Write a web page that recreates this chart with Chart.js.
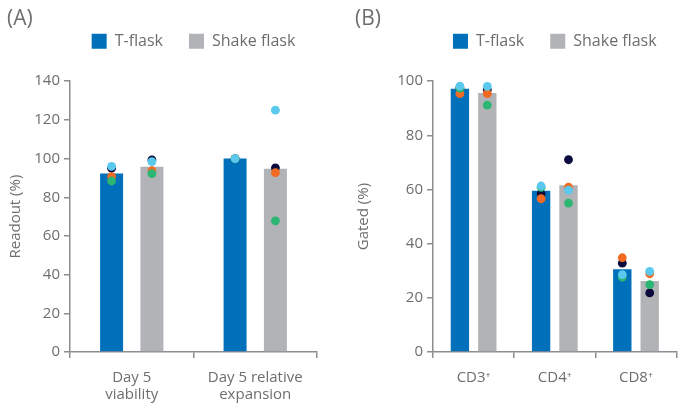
<!DOCTYPE html>
<html>
<head>
<meta charset="utf-8">
<script src="https://cdn.jsdelivr.net/npm/chart.js@4.4.1/dist/chart.umd.min.js"></script>
<style>
  html, body { margin: 0; padding: 0; background: #fff; overflow: hidden; }
  #wrap { position: relative; width: 678px; height: 408px; overflow: hidden; }
  #boxA { position: absolute; left: 0; top: 0; width: 339px; height: 408px; }
  #boxB { position: absolute; left: 339px; top: 0; width: 342px; height: 408px; }
</style>
</head>
<body>
<div id="wrap">
  <div id="boxA"><canvas id="chartA"></canvas></div>
  <div id="boxB"><canvas id="chartB"></canvas></div>
</div>
<script>
// ---------- Panel A: viability and relative expansion ----------
const categoriesA = [['Day 5', 'viability'], ['Day 5 relative', 'expansion']];
const tFlaskA = [92.3, 100];
const shakeA  = [95.8, 94.8];
// individual donors: [T-flask per category], [shake flask per category]
const donor1A_T = [96, 100];   const donor1A_S = [98.4, 125];
const donor2A_T = [95, 100];   const donor2A_S = [99.3, 95.2];
const donor3A_T = [90.7, 100]; const donor3A_S = [93.7, 92.7];
const donor4A_T = [88.4, 100]; const donor4A_S = [92.2, 67.8];
const ticksA = { min: 0, max: 140, step: 20 };

// ---------- Panel B: gated populations ----------
const categoriesB = ['CD3\u207A', 'CD4\u207A', 'CD8\u207A'];
const tFlaskB = [97.2, 59.5, 30.6];
const shakeB  = [95.6, 61.6, 26.2];
const donor1B_T = [98.2, 61.3, 28.6]; const donor1B_S = [98.1, 59.8, 29.8];
const donor2B_T = [97.6, 58.4, 32.8]; const donor2B_S = [96.8, 71.0, 21.8];
const donor3B_T = [95.4, 56.6, 34.8]; const donor3B_S = [95.4, 60.9, 28.9];
const donor4B_T = [97.4, 60.8, 27.6]; const donor4B_S = [91.2, 55.0, 24.9];
const ticksB = { min: 0, max: 100, step: 20 };

const seriesLabels = ['T-flask', 'Shake flask'];
const barColors = ['#0070BA', '#B1B3B6'];
// donors listed top-most first
const donorColors = ['#5BC9EE', '#2BB673', '#F26A21', '#0A0A3C'];
const textGray = '#6D6E71';
const axisGray = '#8C8D90';
const baseFont = "'Open Sans', 'Noto Sans', sans-serif";

// Centre the legend row over the plot area and tuck it under the panel label.
const legendPlacement = {
  id: 'legendPlacement',
  afterLayout(chart) {
    const lg = chart.legend;
    if (!lg) return;
    const ca = chart.chartArea;
    const shift = (ca.left + ca.right) / 2 - (lg.left + lg.right) / 2;
    lg.left += shift;
    lg.right += shift;
    lg.top -= lg.options.labels.padding - 2;
  }
};

function buildChart(canvasId, cfg) {
  const n = cfg.categories.length;
  const off = cfg.groupWidth / 4;          // centre of each bar inside its category
  const xOf = [i => i - off, i => i + off]; // T-flask left, shake flask right

  const barSets = [cfg.tFlask, cfg.shake].map((vals, k) => ({
    type: 'bar',
    label: seriesLabels[k],
    data: vals.map((v, i) => ({ x: xOf[k](i), y: v })),
    backgroundColor: barColors[k],
    borderWidth: 0,
    grouped: false,
    categoryPercentage: 1,
    barPercentage: cfg.barPercentage,
    xAxisID: 'xd',
    yAxisID: 'y',
    order: 1
  }));

  const donorSets = cfg.donors.map((d, k) => ({
    type: 'scatter',
    data: [d[0], d[1]].flatMap((vals, s) => vals.map((v, i) => ({ x: xOf[s](i), y: v }))),
    xAxisID: 'xd',
    yAxisID: 'y',
    backgroundColor: donorColors[k],
    borderWidth: 0,
    pointRadius: 4.4,
    pointHoverRadius: 4.4,
    order: 0
  }));

  return new Chart(document.getElementById(canvasId), {
    type: 'bar',
    data: { labels: cfg.categories, datasets: barSets.concat(donorSets) },
    plugins: [legendPlacement],
    options: {
      responsive: true,
      maintainAspectRatio: false,
      animation: false,
      events: [],
      layout: { padding: { left: cfg.padLeft, right: cfg.padRight, top: 0, bottom: 0 } },
      plugins: {
        title: {
          display: true,
          text: cfg.title,
          align: 'start',
          color: textGray,
          font: { family: baseFont, size: 21, weight: 'normal', lineHeight: 1.2 },
          padding: { top: 6, bottom: 0 }
        },
        legend: {
          display: true,
          position: 'top',
          align: 'center',
          maxHeight: 50,
          labels: {
            boxWidth: 15,
            boxHeight: 15,
            padding: 26,
            color: textGray,
            font: { family: baseFont, size: 16 },
            filter: item => seriesLabels.includes(item.text)
          }
        },
        tooltip: { enabled: false }
      },
      scales: {
        // category axis: labels and boundary tick marks
        x: {
          type: 'category',
          labels: cfg.categories,
          offset: true,
          grid: { display: true, drawOnChartArea: false, drawTicks: true, tickLength: 6, color: axisGray, lineWidth: 1.5, offset: true },
          border: { display: true, color: axisGray, width: 1.5 },
          ticks: { color: textGray, font: { family: baseFont, size: 15, lineHeight: 1.15 }, padding: 11, maxRotation: 0, autoSkip: false },
          afterFit: s => { s.height = 56; }
        },
        // numeric twin of the category axis that positions bars and donor points
        xd: {
          type: 'linear',
          display: false,
          offset: false,
          min: -0.5,
          max: n - 0.5,
          afterBuildTicks: s => { s.ticks = [{ value: -0.5 }, { value: n - 0.5 }]; }
        },
        y: {
          type: 'linear',
          min: cfg.ticks.min,
          max: cfg.ticks.max,
          grid: { display: true, drawOnChartArea: false, drawTicks: true, tickLength: 6, color: axisGray, lineWidth: 1.5 },
          border: { display: true, color: axisGray, width: 1.5 },
          ticks: { stepSize: cfg.ticks.step, color: textGray, font: { family: baseFont, size: 15 }, padding: 4 },
          title: { display: true, text: cfg.yTitle, color: textGray, font: { family: baseFont, size: 15 }, padding: { top: 0, bottom: 2 } },
          afterFit: s => { s.width = cfg.yWidth; }
        }
      }
    }
  });
}

buildChart('chartA', {
  title: '(A)',
  yTitle: 'Readout (%)',
  categories: categoriesA,
  tFlask: tFlaskA,
  shake: shakeA,
  donors: [
    [donor1A_T, donor1A_S],
    [donor4A_T, donor4A_S],
    [donor3A_T, donor3A_S],
    [donor2A_T, donor2A_S]
  ],
  ticks: ticksA,
  groupWidth: 0.653,
  barPercentage: 0.57,
  padLeft: 7, padRight: 22, yWidth: 63
});

buildChart('chartB', {
  title: '(B)',
  yTitle: 'Gated (%)',
  categories: categoriesB,
  tFlask: tFlaskB,
  shake: shakeB,
  donors: [
    [donor1B_T, donor1B_S],
    [donor4B_T, donor4B_S],
    [donor3B_T, donor3B_S],
    [donor2B_T, donor2B_S]
  ],
  ticks: ticksB,
  groupWidth: 0.675,
  barPercentage: 0.67,
  padLeft: 16, padRight: 1, yWidth: 78
});
</script>
</body>
</html>
